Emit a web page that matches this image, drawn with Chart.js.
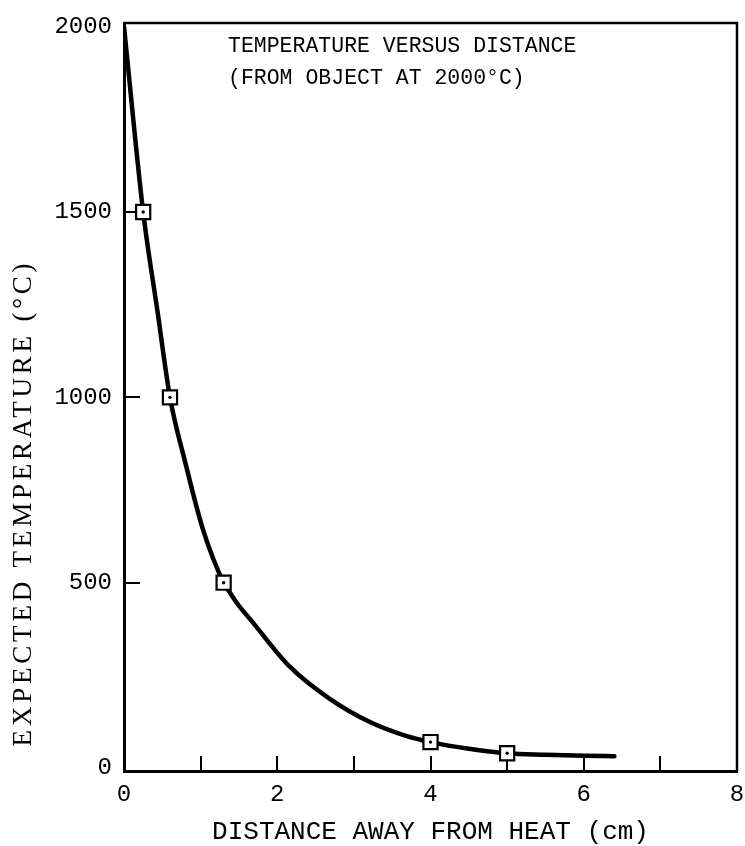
<!DOCTYPE html>
<html>
<head>
<meta charset="utf-8">
<script src="https://cdn.jsdelivr.net/npm/chart.js@4"></script>
<style>
  html, body { margin: 0; padding: 0; background: #fff; }
  #wrap { width: 745px; height: 846px; }
</style>
</head>
<body>
<div id="wrap"><canvas id="c" width="745" height="846"></canvas></div>
<script>
// ---- data ----
const curveX = [0, 0.25, 0.44, 0.6, 0.8, 1.03, 1.3, 1.38, 1.47, 1.68, 2.17, 2.69, 3.21, 3.69, 4.0, 4.5, 5.0, 5.5, 6.0, 6.4];
const curveY = [2000, 1500, 1228, 1000, 824, 644, 500, 474, 446, 393, 272, 186, 124, 86, 70, 52, 40, 36, 33, 32];
const markerX = [0.25, 0.6, 1.3, 4.0, 5.0];
const markerY = [1500, 1000, 500, 70, 40];
const xTickValues = [0, 1, 2, 3, 4, 5, 6, 7, 8];
const xTickLabels = ['0', '', '2', '', '4', '', '6', '', '8'];
const yTickValues = [0, 500, 1000, 1500, 2000];
const yTickLabels = ['0', '500', '1000', '1500', '2000'];
const xInnerTicks = [1, 2, 3, 4, 5, 6, 7];
const yInnerTicks = [500, 1000, 1500];
const titleLines = ['TEMPERATURE VERSUS DISTANCE', '(FROM OBJECT AT 2000°C)'];
const xAxisTitle = 'DISTANCE AWAY FROM HEAT (cm)';
const yAxisTitle = 'EXPECTED TEMPERATURE (°C)';

const MONO = '"Liberation Mono", "DejaVu Sans Mono", monospace';
const SERIF = '"Liberation Serif", "DejaVu Serif", serif';

const framePlugin = {
  id: 'frame',
  beforeDatasetsDraw(chart) {
    const { ctx, chartArea: a, scales } = chart;
    ctx.save();
    ctx.strokeStyle = '#000';
    // top and right frame lines
    ctx.lineWidth = 2.5;
    ctx.beginPath();
    ctx.moveTo(a.left, a.top);
    ctx.lineTo(a.right, a.top);
    ctx.lineTo(a.right, a.bottom);
    ctx.stroke();
    // inward ticks
    ctx.lineWidth = 2;
    ctx.beginPath();
    xInnerTicks.forEach(v => {
      const px = Math.round(scales.x.getPixelForValue(v));
      ctx.moveTo(px, a.bottom);
      ctx.lineTo(px, a.bottom - 15);
    });
    yInnerTicks.forEach(v => {
      const py = Math.round(scales.y.getPixelForValue(v));
      ctx.moveTo(a.left, py);
      ctx.lineTo(a.left + 16, py);
    });
    ctx.stroke();
    // inset title
    ctx.fillStyle = '#000';
    ctx.font = '21.5px ' + MONO;
    ctx.textAlign = 'left';
    ctx.textBaseline = 'middle';
    ctx.fillText(titleLines[0], a.left + 104, a.top + 23);
    ctx.fillText(titleLines[1], a.left + 104, a.top + 55);
    // y-axis title (letter-spaced, placed as in the reference)
    ctx.save();
    ctx.translate(24, (a.top + a.bottom) / 2 + 106);
    ctx.rotate(-Math.PI / 2);
    ctx.font = '27px ' + SERIF;
    ctx.letterSpacing = '3.8px';
    ctx.textAlign = 'center';
    ctx.textBaseline = 'middle';
    ctx.fillText(yAxisTitle, 0, 0);
    ctx.restore();
    ctx.restore();
  }
};

new Chart(document.getElementById('c'), {
  type: 'scatter',
  data: {
    datasets: [
      {
        label: 'dots',
        data: markerX.map((x, i) => ({ x, y: markerY[i] })),
        pointStyle: 'circle',
        pointRadius: 1.7,
        pointBackgroundColor: '#000',
        pointBorderWidth: 0,
        showLine: false,
        order: 1
      },
      {
        label: 'markers',
        data: markerX.map((x, i) => ({ x, y: markerY[i] })),
        pointStyle: 'rect',
        pointRadius: 10,
        pointBackgroundColor: '#fff',
        pointBorderColor: '#000',
        pointBorderWidth: 2.2,
        showLine: false,
        order: 2
      },
      {
        label: 'curve',
        data: curveX.map((x, i) => ({ x, y: curveY[i] })),
        showLine: true,
        borderColor: '#000',
        borderWidth: 4.5,
        borderCapStyle: 'round',
        borderJoinStyle: 'round',
        pointRadius: 0,
        cubicInterpolationMode: 'monotone',
        fill: false,
        order: 3
      }
    ]
  },
  options: {
    responsive: false,
    animation: false,
    events: [],
    layout: { autoPadding: false, padding: { top: 23, right: 8, bottom: 1, left: 42.4 } },
    plugins: { legend: { display: false }, tooltip: { enabled: false }, title: { display: false } },
    scales: {
      x: {
        type: 'linear',
        min: 0,
        max: 8,
        afterBuildTicks: s => { s.ticks = xTickValues.map(v => ({ value: v })); },
        afterFit: s => { s.paddingLeft = 0; s.paddingRight = 0; },
        grid: { display: false, drawTicks: false },
        border: { display: true, color: '#000', width: 3 },
        ticks: {
          color: '#000',
          font: { family: MONO, size: 24, lineHeight: 1 },
          padding: 12,
          maxRotation: 0,
          autoSkip: false,
          callback: (v) => xTickLabels[xTickValues.indexOf(v)]
        },
        title: {
          display: true,
          text: xAxisTitle,
          color: '#000',
          font: { family: MONO, size: 26, lineHeight: 1 },
          padding: { top: 0, bottom: 0 }
        }
      },
      y: {
        type: 'linear',
        min: -8,
        max: 2010,
        afterBuildTicks: s => { s.ticks = yTickValues.map(v => ({ value: v })); },
        afterFit: s => { s.paddingTop = 0; s.paddingBottom = 0; },
        grid: { display: false, drawTicks: false },
        border: { display: true, color: '#000', width: 3 },
        ticks: {
          color: '#000',
          font: { family: MONO, size: 24, lineHeight: 1 },
          padding: 12,
          autoSkip: false,
          callback: (v) => yTickLabels[yTickValues.indexOf(v)]
        },
        title: { display: false }
      }
    }
  },
  plugins: [framePlugin]
});
</script>
</body>
</html>
